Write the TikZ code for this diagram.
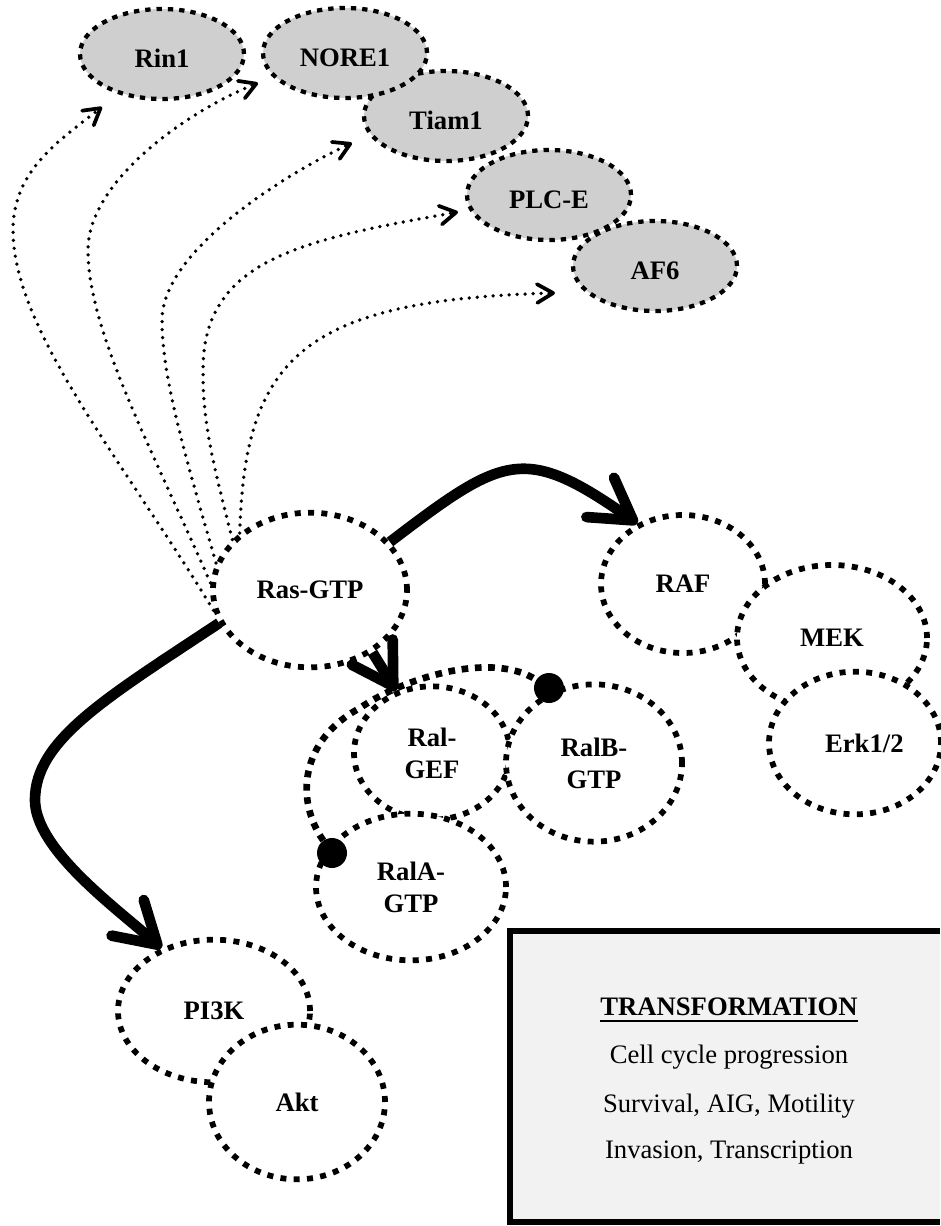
\documentclass[tikz,border=0pt]{standalone}
\usepackage{fontspec}
\setmainfont{Liberation Serif}
\usetikzlibrary{arrows.meta,shapes.geometric,calc}
\begin{document}
\begin{tikzpicture}[x=0.75pt,y=-0.75pt,
  lbl/.style={font=\fontsize{20}{24}\selectfont\bfseries, align=center},
  grayell/.style={ellipse, draw, lbl, line width=3.2pt, dash pattern=on 4pt off 4.5pt,
    fill=gray!38, minimum width=123pt, minimum height=67.5pt, inner sep=0pt,
    text height=20.7pt, text depth=0pt},
  cell/.style={ellipse, draw, lbl, line width=4.3pt, dash pattern=on 4.5pt off 5.5pt,
    fill=white, inner sep=0pt},
  dotarrow/.style={line width=2.8pt, dash pattern=on 0pt off 6pt, line cap=round,
    -{Straight Barb[length=12pt,width=14pt,line width=2.8pt,round]}},
  thickarrow/.style={line width=8pt, -{Straight Barb[length=30pt,width=36pt,round]}},
  arcline/.style={line width=5pt, dash pattern=on 5pt off 5pt},
  blob/.style={circle, fill=black, minimum size=22.5pt, inner sep=0pt},
  boxtext/.style={font=\fontsize{20}{24}\selectfont, anchor=base, inner sep=0pt},
  frame/.style={line width=4.5pt, line join=miter}
]
\useasboundingbox (0,0) rectangle (940,1226);

% gray effector ellipses
\node[grayell] (af6) at (655,266) {AF6};
\node[grayell] (plce) at (549,195) {PLC-E};
\node[grayell] (tiam1) at (446,116) {Tiam1};
\node[grayell] (nore1) at (345,53) {NORE1};
\node[grayell] (rin1) at (162,54) {Rin1};

% cells
\node[cell, minimum width=145.5pt, minimum height=116pt] (ras) at (310,590) {Ras-GTP};
\node[cell, minimum width=123pt, minimum height=103.5pt] (raf) at (683,584) {RAF};
\node[cell, minimum width=142.5pt, minimum height=109.5pt] (mek) at (832,638) {MEK};
\node[cell, minimum width=129pt, minimum height=107pt] (erk) at (855,743) {\hspace*{14pt}Erk1/2};
\node[cell, minimum width=117pt, minimum height=100pt] (ralgef) at (432,753) {Ral-\\GEF};
\node[cell, minimum width=132pt, minimum height=118pt] (ralb) at (594,763) {RalB-\\GTP};
\node[cell, minimum width=142.5pt, minimum height=110pt] (rala) at (411,887) {RalA-\\GTP};
\node[cell, minimum width=144pt, minimum height=107pt] (pi3k) at (214,1011) {PI3K};
\node[cell, minimum width=132pt, minimum height=116pt] (akt) at (297,1102) {Akt};

% Ral arc with blobs
\node[blob] (blobb) at (549,688) {};
\node[blob] (bloba) at (332,853) {};
\draw[arcline] (bloba) .. controls (295,800) and (300,740) .. (360,708)
  .. controls (400,680) and (490,650) .. (blobb);

% tips of dotted arrows
\coordinate (rin1tip) at ($(rin1.center)+(-60,53)$);
\coordinate (nore1tip) at ($(nore1.center)+(-87,30)$);
\coordinate (tiam1tip) at ($(tiam1.center)+(-94,27)$);
\coordinate (plcetip) at ($(plce.center)+(-91,17)$);
\coordinate (af6tip) at ($(af6.center)+(-100,27)$);

\draw[dotarrow] (ras.192) .. controls (124,462) and (13,330) .. (13,230)
  .. controls (13,170) and (60,140) .. (rin1tip);
\draw[dotarrow] (ras.176) .. controls (149,443) and (88,330) .. (88,250)
  .. controls (88,180) and (190,110) .. (nore1tip);
\draw[dotarrow] (ras.164) .. controls (188,465) and (162,380) .. (162,320)
  .. controls (162,250) and (289,172) .. (tiam1tip);
\draw[dotarrow] (ras.147) .. controls (210,452) and (203,420) .. (203,370)
  .. controls (203,260) and (300,240) .. (plcetip);
\draw[dotarrow] (ras.141) .. controls (245,360) and (300,300) .. (af6tip);

% thick arrows
\draw[thickarrow] (ras.31) .. controls (504,455) and (524,444) .. (raf.127);
\draw[thickarrow] (ras.315) -- (ralgef.120);
\draw[thickarrow] (ras.200) .. controls (106,698) and (35,740) .. (35,800)
  .. controls (35,850) and (119,910) .. (pi3k.130);

% transformation box (its right side lies past the picture edge)
\fill[gray!10] (510,931) rectangle (940,1222);
\draw[frame] (940,931) -- (510,931) -- (510,1222) -- (940,1222);
\node[boxtext, font=\fontsize{20}{24}\selectfont\bfseries] (t1) at (729,1015) {TRANSFORMATION};
\draw[line width=1.5pt] ([yshift=-4.5pt]t1.base west) -- ([yshift=-4.5pt]t1.base east);
\node[boxtext] (t2) at (729,1063) {Cell cycle progression};
\node[boxtext] (t3) at (729,1112) {Survival, AIG, Motility};
\node[boxtext] (t4) at (729,1158) {Invasion, Transcription};
\end{tikzpicture}
\end{document}
